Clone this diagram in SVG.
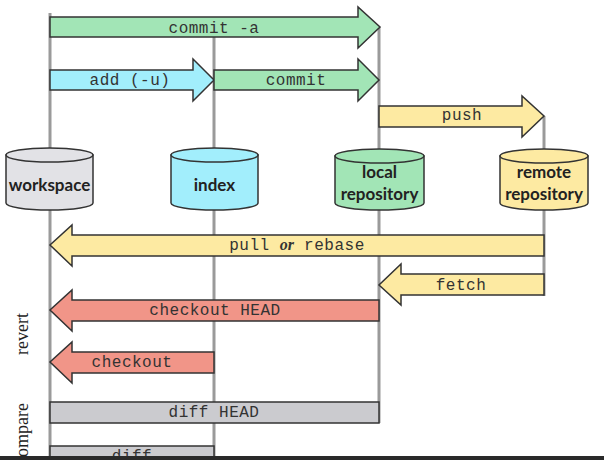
<svg xmlns="http://www.w3.org/2000/svg" width="604" height="460" viewBox="0 0 604 460">
<style>
.ln{stroke:#9a9a9a;stroke-width:3;fill:none}
.ar{stroke:#333;stroke-width:1.5;stroke-linejoin:miter}
.g{fill:#a2e5b6}.c{fill:#a2eefc}.y{fill:#fdeaa2}.r{fill:#f19588}.d{fill:#cbcbcf}
.t{font-family:"Liberation Mono",monospace;font-size:16px;letter-spacing:0.5px;fill:#333;text-anchor:middle}
.n{font-family:"Lato","Noto Sans",sans-serif;font-size:17px;font-weight:bold;fill:#222;text-anchor:middle}
.s{font-family:"Liberation Serif",serif;font-size:18px;fill:#222;text-anchor:middle}
.cy{stroke:#333;stroke-width:1.5}
</style>
<rect width="604" height="460" fill="#fff"/>
<g id="lines">
<line class="ln" x1="50" y1="13" x2="50" y2="460"/>
<line class="ln" x1="214" y1="37" x2="214" y2="460"/>
<line class="ln" x1="379" y1="27" x2="379" y2="423"/>
<line class="ln" x1="544" y1="116" x2="544" y2="296"/>
</g>
<g id="connectors">
<g id="commit-a"><path class="ar g" d="M50,17 H358 V7 L380,27 L358,48 V37 H50 Z"/><text class="t" x="214" y="33">commit -a</text></g>
<g id="add"><path class="ar c" d="M50,70 H193 V59 L214,80 L193,101 V90 H50 Z"/><text class="t" x="130" y="85">add (-u)</text></g>
<g id="commit"><path class="ar g" d="M214,70 H358 V59 L379,80 L358,101 V90 H214 Z"/><text class="t" x="296" y="85">commit</text></g>
<g id="push"><path class="ar y" d="M379,106 H522 V96 L544,116 L522,137 V127 H379 Z"/><text class="t" x="462" y="120">push</text></g>
<g id="pull"><path class="ar y" d="M544,235 H72 V225 L50,245 L72,266 V256 H544 Z"/><text class="t" x="297" y="250">pull <tspan font-family="Liberation Serif,serif" font-style="italic" font-weight="bold" letter-spacing="0">or</tspan> rebase</text></g>
<g id="fetch"><path class="ar y" d="M544,274 H401 V264 L379,285 L401,305 V295 H544 Z"/><text class="t" x="461" y="290">fetch</text></g>
<g id="checkout-head"><path class="ar r" d="M379,300 H72 V290 L50,310 L72,331 V321 H379 Z"/><text class="t" x="215" y="315">checkout HEAD</text></g>
<g id="checkout"><path class="ar r" d="M214,352 H72 V342 L50,362 L72,383 V373 H214 Z"/><text class="t" x="132" y="367">checkout</text></g>
<g id="diff-head"><rect class="ar d" x="50" y="402" width="329" height="21"/><text class="t" x="214" y="417">diff HEAD</text></g>
<g id="diff"><rect class="ar d" x="50" y="446" width="164" height="20"/><text class="t" x="132" y="461">diff</text></g>
</g>
<g id="workspace">
<path class="cy" fill="#e2e2e6" d="M6,155 V203 A43.5,7 0 0 0 93,203 V155 Z"/>
<ellipse class="cy" fill="#e2e2e6" cx="49.5" cy="155" rx="43.5" ry="7"/>
<text class="n" x="49.5" y="191">workspace</text>
</g>
<g id="index">
<path class="cy" fill="#a2eefc" d="M171,155 V203 A43.5,7 0 0 0 258,203 V155 Z"/>
<ellipse class="cy" fill="#a2eefc" cx="214.5" cy="155" rx="43.5" ry="7"/>
<text class="n" x="214.5" y="191">index</text>
</g>
<g id="local">
<path class="cy" fill="#a2e5b6" d="M335,156 V203 A44.5,7 0 0 0 424,203 V156 Z"/>
<ellipse class="cy" fill="#a2e5b6" cx="379.5" cy="156" rx="44.5" ry="7"/>
<text class="n" x="379.5" y="178">local</text>
<text class="n" x="379.5" y="200">repository</text>
</g>
<g id="remote">
<path class="cy" fill="#fdeaa2" d="M500,156 V203 A44,7 0 0 0 588,203 V156 Z"/>
<ellipse class="cy" fill="#fdeaa2" cx="544" cy="156" rx="44" ry="7"/>
<text class="n" x="544" y="178">remote</text>
<text class="n" x="544" y="200">repository</text>
</g>
<g id="labels">
<text class="s" transform="translate(28,334) rotate(-90)">revert</text>
<text class="s" transform="translate(28,434) rotate(-90)">compare</text>
</g>
<rect x="0" y="456" width="604" height="4" fill="#2a2a2a"/>
</svg>
